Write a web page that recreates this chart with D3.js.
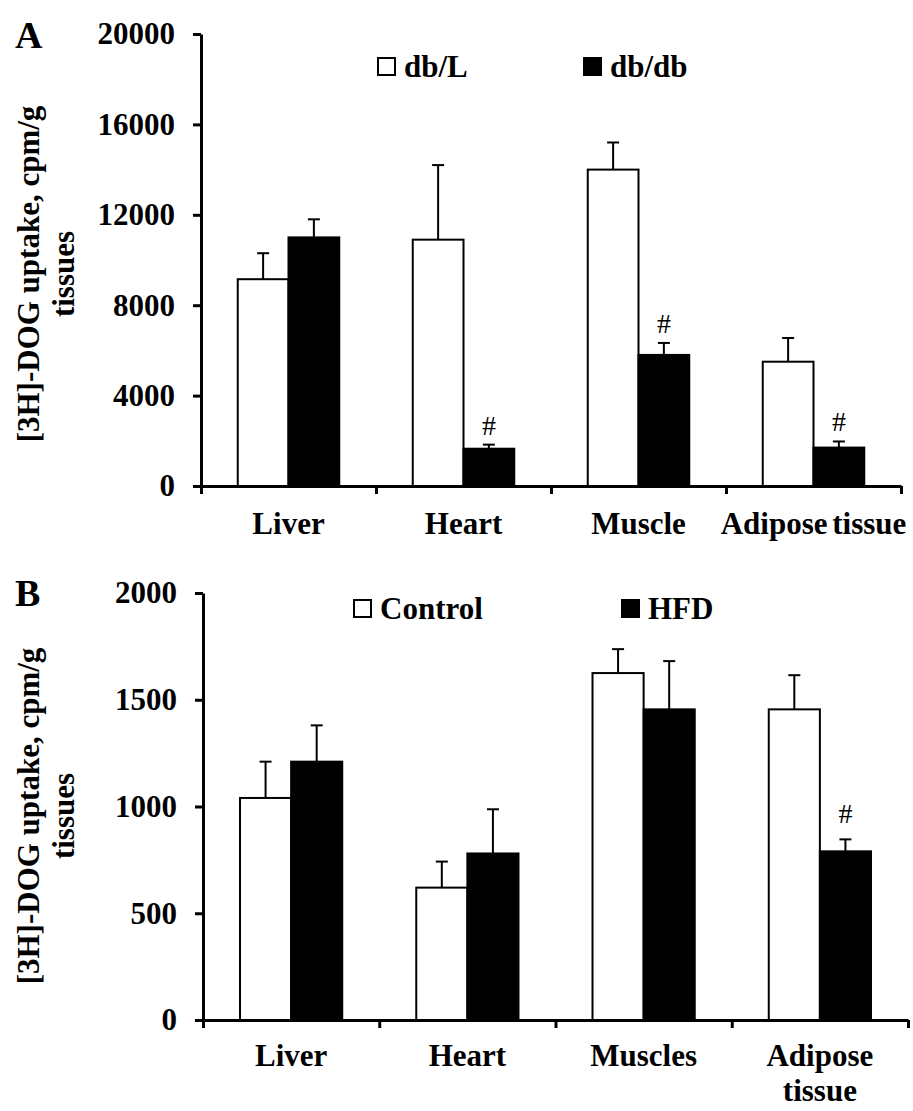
<!DOCTYPE html>
<html>
<head>
<meta charset="utf-8">
<script src="https://cdn.jsdelivr.net/npm/d3@7/dist/d3.min.js"></script>
<style>
  body { margin: 0; background: #fff; }
  text { font-family: "Liberation Serif", "Times New Roman", serif; }
</style>
</head>
<body>
<div id="chart"></div>
<script>
// panel A: db/L vs db/db
const tissuesA = ['Liver', 'Heart', 'Muscle', 'Adipose tissue'];
const seriesA = ['db/L', 'db/db'];
const dbLMean = [9150, 10900, 14000, 5500];
const dbLErr = [1150, 3300, 1200, 1050];
const dbdbMean = [11000, 1650, 5800, 1700];
const dbdbErr = [800, 180, 530, 270];
const sigA = [false, true, true, true];   // "#" over db/db bar
const ticksA = [0, 4000, 8000, 12000, 16000, 20000];

// panel B: Control vs HFD
const tissuesB = [['Liver'], ['Heart'], ['Muscles'], ['Adipose', 'tissue']];
const seriesB = ['Control', 'HFD'];
const controlMean = [1040, 620, 1625, 1455];
const controlErr = [170, 122, 112, 160];
const hfdMean = [1210, 780, 1455, 790];
const hfdErr = [170, 207, 226, 56];
const sigB = [false, false, false, true];
const ticksB = [0, 500, 1000, 1500, 2000];

const yLabelLines = ['[3H]-DOG uptake, cpm/g', 'tissues'];

const W = 913, H = 1111;
const FONT = 31;

const svg = d3.select('#chart').append('svg')
  .attr('width', W)
  .attr('height', H);

function drawPanel(p) {
  const g = svg.append('g');
  const cats = p.labels.map((l, i) => i);

  const y = d3.scaleLinear()
    .domain([0, p.max])
    .range([p.yBase, p.yTop]);

  const x = d3.scaleBand()                 // one band per tissue
    .domain(cats)
    .range([p.x0, p.x1])
    .paddingInner(0.42)
    .paddingOuter(0.21);

  const xSub = d3.scaleBand()              // two bars inside each band
    .domain([0, 1])
    .range([0, x.bandwidth()]);

  const xEdge = d3.scaleLinear()           // tick marks between categories
    .domain([0, cats.length])
    .range([p.x0, p.x1]);

  const rows = [];
  cats.forEach(i => {
    p.means.forEach((m, s) => {
      rows.push({cat: i, s, mean: m[i], err: p.errs[s][i], sig: s === 1 && p.sig[i]});
    });
  });

  const cx = d => x(d.cat) + xSub(d.s) + xSub.bandwidth() / 2;

  // error bars first so the black bars sit over their lower half
  const eb = g.selectAll('.err').data(rows).enter().append('g')
    .attr('class', 'err')
    .attr('stroke', '#000')
    .attr('stroke-width', 2);
  eb.append('line')
    .attr('x1', cx)
    .attr('x2', cx)
    .attr('y1', d => y(d.mean))
    .attr('y2', d => y(d.mean + d.err));
  eb.append('line')
    .attr('x1', d => cx(d) - 6)
    .attr('x2', d => cx(d) + 6)
    .attr('y1', d => y(d.mean + d.err))
    .attr('y2', d => y(d.mean + d.err));

  g.selectAll('.bar').data(rows).enter().append('rect')
    .attr('class', 'bar')
    .attr('x', d => x(d.cat) + xSub(d.s))
    .attr('y', d => y(d.mean))
    .attr('width', xSub.bandwidth())
    .attr('height', d => y(0) - y(d.mean))
    .attr('fill', d => d.s === 0 ? '#fff' : '#000')
    .attr('stroke', '#000')
    .attr('stroke-width', 2);

  g.selectAll('.sig').data(rows.filter(d => d.sig)).enter().append('text')
    .attr('class', 'sig')
    .attr('x', cx)
    .attr('y', d => y(d.mean + d.err) - p.sigGap)
    .attr('text-anchor', 'middle')
    .style('font-size', '28px')
    .text('#');

  // axes
  const yAxis = g.append('g')
    .attr('transform', `translate(${p.x0},0)`)
    .call(d3.axisLeft(y).tickValues(p.ticks).tickFormat(d3.format('d'))
      .tickSize(8).tickSizeOuter(0).tickPadding(18));
  const xAxis = g.append('g')
    .attr('transform', `translate(0,${p.yBase})`)
    .call(d3.axisBottom(xEdge).tickValues(d3.range(cats.length + 1)).tickFormat('')
      .tickSize(8).tickSizeOuter(0));
  [yAxis, xAxis].forEach(a => {
    a.selectAll('path, line').attr('stroke', '#000').attr('stroke-width', 3);
  });
  yAxis.selectAll('text')
    .attr('fill', '#000')
    .style('font-family', '"Liberation Serif", serif')
    .style('font-size', FONT + 'px')
    .style('font-weight', 'bold');

  // category labels
  const lab = g.selectAll('.cat').data(p.labels).enter().append('text')
    .attr('class', 'cat')
    .attr('x', (d, i) => x(i) + x.bandwidth() / 2)
    .attr('y', p.labelY)
    .attr('text-anchor', 'middle')
    .style('font-size', FONT + 'px')
    .style('font-weight', 'bold')
    .style('word-spacing', '-3px');
  lab.selectAll('tspan').data(d => d).enter().append('tspan')
    .attr('x', function() { return this.parentNode.getAttribute('x'); })
    .attr('dy', (d, i) => i === 0 ? 0 : 35)
    .text(d => d);

  // y-axis title, two rotated lines
  yLabelLines.forEach((t, i) => {
    g.append('text')
      .attr('transform', `translate(${[28, 63][i]},${p.titleY}) rotate(-90)`)
      .attr('text-anchor', 'middle')
      .attr('dominant-baseline', 'central')
      .style('font-size', FONT + 'px')
      .style('font-weight', 'bold')
      .text(t);
  });

  // panel letter
  g.append('text')
    .attr('x', 15)
    .attr('y', p.letterY)
    .style('font-size', '38px')
    .style('font-weight', 'bold')
    .text(p.letter);

  // legend
  p.series.forEach((name, s) => {
    const lx = p.legendX[s];
    g.append('rect')
      .attr('x', lx)
      .attr('y', p.legendY - 19)
      .attr('width', 17)
      .attr('height', 17)
      .attr('fill', s === 0 ? '#fff' : '#000')
      .attr('stroke', '#000')
      .attr('stroke-width', 2);
    g.append('text')
      .attr('x', lx + 26)
      .attr('y', p.legendY)
      .style('font-size', FONT + 'px')
      .style('font-weight', 'bold')
      .text(name);
  });
}

drawPanel({
  letter: 'A', letterY: 48,
  labels: tissuesA.map(t => [t]), series: seriesA,
  means: [dbLMean, dbdbMean], errs: [dbLErr, dbdbErr], sig: sigA,
  ticks: ticksA, max: 20000,
  x0: 201, x1: 901, yTop: 34, yBase: 486,
  labelY: 534, titleY: 274, sigGap: 10,
  legendX: [378, 584], legendY: 77,
});

drawPanel({
  letter: 'B', letterY: 606,
  labels: tissuesB, series: seriesB,
  means: [controlMean, hfdMean], errs: [controlErr, hfdErr], sig: sigB,
  ticks: ticksB, max: 2000,
  x0: 203, x1: 908, yTop: 593, yBase: 1020,
  labelY: 1066, titleY: 816, sigGap: 16,
  legendX: [354, 622], legendY: 619,
});
</script>
</body>
</html>
